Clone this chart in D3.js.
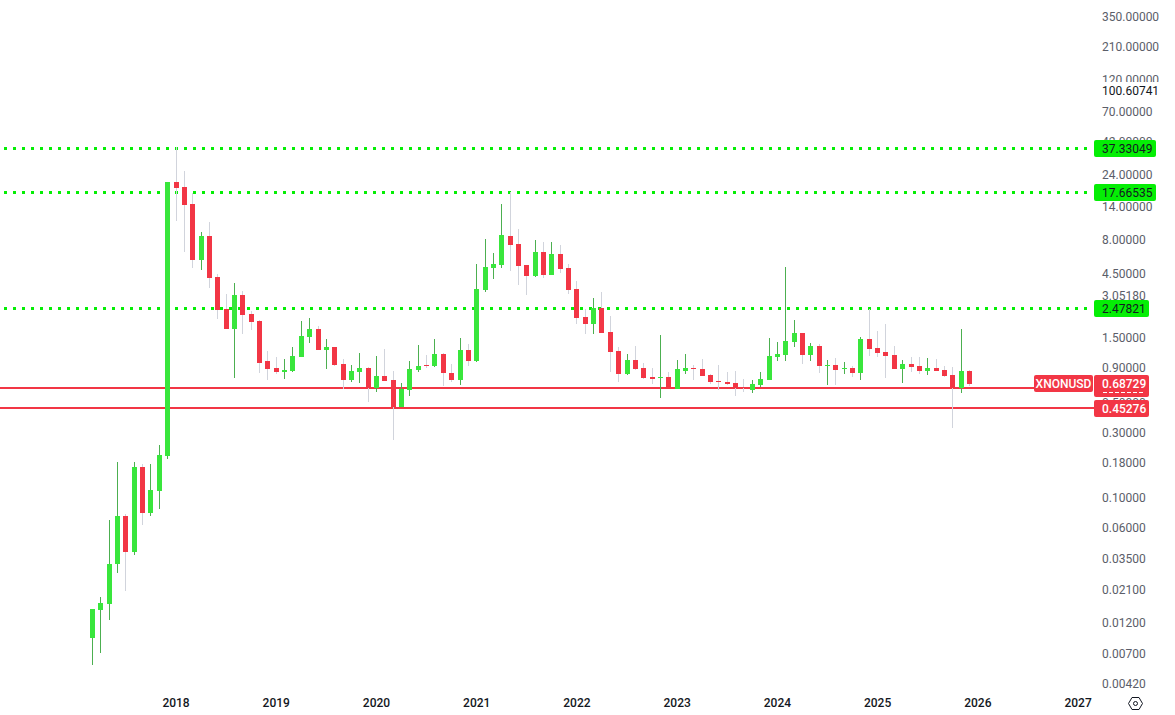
<!DOCTYPE html>
<html>
<head>
<meta charset="utf-8">
<title>XNONUSD</title>
<script src="https://cdn.jsdelivr.net/npm/d3@7"></script>
<style>
  html, body { margin: 0; padding: 0; background: #fff; overflow: hidden; }
  text { font-family: Roboto, "Liberation Sans", sans-serif; font-size: 12px; }
</style>
</head>
<body>
<div id="chart"></div>
<script>
// monthly candles, Mar 2017 .. Dec 2025
const firstMonth = new Date(2017, 2, 1);

const opens = [
  0.00904, 0.01454, 0.0161, 0.03176, 0.07178, 0.03896, 0.165, 0.0755, 0.1097, 0.1987,
  20.88, 19.17, 14.36, 5.548, 8.34, 4.157, 2.414, 1.719, 3.063, 2.216,
  1.969, 0.9977, 0.8861, 0.8283, 0.842, 1.068, 1.501, 1.719, 1.203, 1.266,
  0.948, 0.7228, 0.8283, 0.8861, 0.631, 0.7735, 0.7228, 0.457, 0.6099, 0.8566,
  0.9328, 0.9165, 1.124, 0.8138, 0.7228, 1.203, 0.9977, 3.333, 4.84, 5.099,
  8.34, 7.278, 5.099, 4.227, 6.36, 4.302, 6.141, 4.84, 3.389, 2.107,
  1.871, 2.456, 1.634, 1.183, 0.8, 1.015, 0.8861, 0.7607, 0.7478, 0.7607,
  0.6202, 0.842, 0.8861, 0.8709, 0.7872, 0.7105, 0.699, 0.6867, 0.6419, 0.6099,
  0.6642, 0.7228, 1.068, 1.106, 1.379, 1.606, 1.106, 1.288, 0.9165, 0.9328,
  0.8709, 0.8861, 0.8138, 1.45, 1.245, 1.163, 1.106, 0.8709, 0.948, 0.9165,
  0.842, 0.8861, 0.8566, 0.7872, 0.631, 0.842
];
const highs = [
  0.0148, 0.01814, 0.06706, 0.1797, 0.0742, 0.1797, 0.1735, 0.1735, 0.2398, 20.88,
  37.8, 25.15, 17.3, 8.93, 10.58, 4.372, 3.113, 3.753, 3.276, 2.333,
  2.003, 1.183, 1.068, 1.032, 1.266, 1.969, 2.072, 1.809, 1.45, 1.266,
  1.032, 0.9328, 1.143, 0.9013, 1.086, 1.224, 0.842, 0.6867, 0.9977, 1.31,
  1.106, 1.45, 1.143, 0.948, 1.475, 1.332, 5.182, 7.923, 6.246, 14.36,
  17.61, 9.387, 5.099, 7.792, 7.535, 7.535, 7.161, 5.182, 3.883, 2.414,
  2.91, 3.223, 2.143, 1.266, 1.124, 1.288, 0.9643, 0.8861, 1.553, 0.8283,
  1.015, 1.124, 0.9328, 1.032, 0.8, 0.9328, 0.8283, 0.842, 0.735, 0.7228,
  0.8283, 1.475, 1.379, 4.927, 2.003, 1.606, 1.355, 1.332, 1.015, 1.05,
  0.9815, 0.9165, 1.501, 2.414, 1.661, 1.871, 1.288, 1.015, 1.068, 1.068,
  1.05, 1.032, 0.9165, 0.9013, 1.719, 0.8566
];
const lows = [
  0.00572, 0.0070, 0.01227, 0.02726, 0.0201, 0.03703, 0.06163, 0.07178, 0.0808, 0.1889,
  10.75, 6.36, 4.84, 4.681, 3.449, 2.036, 1.719, 0.7478, 1.579, 1.69,
  0.8138, 0.7228, 0.8, 0.735, 0.8283, 1.068, 1.355, 1.203, 0.8709, 0.9165,
  0.6202, 0.699, 0.6867, 0.4976, 0.5898, 0.7105, 0.2609, 0.457, 0.5507, 0.8283,
  0.8861, 0.9013, 0.6527, 0.699, 0.6642, 0.9165, 0.9815, 3.223, 4.016, 4.84,
  4.601, 3.63, 3.063, 4.157, 4.087, 4.302, 4.447, 3.113, 1.871, 1.579,
  1.579, 1.606, 0.8283, 0.699, 0.7872, 0.8566, 0.735, 0.6751, 0.5325, 0.6202,
  0.6202, 0.8, 0.7228, 0.7735, 0.6751, 0.6099, 0.6642, 0.5507, 0.5898, 0.5794,
  0.6419, 0.7228, 0.9977, 0.9977, 1.266, 0.948, 0.9977, 0.8138, 0.6642, 0.6642,
  0.8, 0.7607, 0.7228, 1.086, 1.068, 0.7478, 0.8709, 0.6867, 0.8283, 0.8,
  0.7872, 0.842, 0.7607, 0.3199, 0.5794, 0.6527
];
const closes = [
  0.0148, 0.01638, 0.03176, 0.07178, 0.03896, 0.165, 0.0755, 0.1116, 0.2023, 20.88,
  18.85, 14.12, 5.548, 8.34, 4.087, 2.373, 1.719, 3.063, 2.181, 1.937,
  0.9643, 0.8709, 0.8283, 0.8566, 1.086, 1.526, 1.719, 1.203, 1.266, 0.9328,
  0.7228, 0.842, 0.8861, 0.631, 0.7735, 0.7105, 0.457, 0.6202, 0.8709, 0.9165,
  0.9165, 1.124, 0.8138, 0.7228, 1.203, 0.9977, 3.389, 4.927, 5.182, 8.486,
  7.161, 5.01, 4.227, 6.36, 4.302, 6.141, 4.76, 3.333, 2.072, 1.871,
  2.456, 1.606, 1.163, 0.8, 1.015, 0.8709, 0.7478, 0.735, 0.7607, 0.6202,
  0.8709, 0.8861, 0.8709, 0.7735, 0.699, 0.699, 0.6751, 0.631, 0.631, 0.6751,
  0.735, 1.086, 1.124, 1.402, 1.606, 1.106, 1.288, 0.9165, 0.9328, 0.8566,
  0.8861, 0.8138, 1.45, 1.224, 1.143, 1.086, 0.8709, 0.948, 0.9013, 0.842,
  0.8861, 0.842, 0.7735, 0.631, 0.842, 0.6751
];

const yearLabels = ["2018", "2019", "2020", "2021", "2022", "2023", "2024", "2025", "2026", "2027"];
const priceTicks = [350, 210, 120, 70, 42, 24, 14, 8, 4.5, 3.0518, 1.5, 0.9, 0.5, 0.3, 0.18, 0.1, 0.06, 0.035, 0.021, 0.012, 0.007, 0.0042];

const greenLevels = [37.33049, 17.66535, 2.47821];
const redLevels = [0.634, 0.45276];
const redLabels = [0.68729, 0.45276];
const topLabel = 100.60741;
const symbol = "XNONUSD";

const width = 1175;
const height = 715;
const axisX = 1102;
const labelX = 1094;
const upColor = "#39e63c";
const upWick = "#4caf50";
const downColor = "#f23645";
const downWick = "#d1d4dc";
const levelGreen = "#05ee05";
const textColor = "#5b5e69";
const darkText = "#131722";

const candles = d3.range(opens.length).map(i => ({
  i, open: opens[i], high: highs[i], low: lows[i], close: closes[i]
}));

const x = d3.scaleLinear().domain([0, candles.length - 1]).range([92.5, 969.5]);
const y = d3.scaleLog().domain([350, 0.0042]).range([16, 683]);

const monthIndex = year => (year - firstMonth.getFullYear()) * 12 - firstMonth.getMonth();
const labelWidth = v => 55 + 7 * (v.toFixed(5).length - 7);

const svg = d3.select("#chart").append("svg")
  .attr("width", width)
  .attr("height", height)
  .style("display", "block");

// horizontal levels, under the candles
svg.append("g").selectAll("line")
  .data(greenLevels)
  .join("line")
  .attr("x1", 4)
  .attr("x2", 1090)
  .attr("y1", d => Math.ceil(y(d)) + 0.5)
  .attr("y2", d => Math.ceil(y(d)) + 0.5)
  .attr("stroke", levelGreen)
  .attr("stroke-width", 3)
  .attr("stroke-dasharray", "3 6");

svg.append("g").selectAll("line")
  .data(redLevels)
  .join("line")
  .attr("x1", 0)
  .attr("x2", (d, i) => i === 0 ? 1034 : 1094)
  .attr("y1", d => Math.ceil(y(d)))
  .attr("y2", d => Math.ceil(y(d)))
  .attr("stroke", downColor)
  .attr("stroke-width", 2)
  .attr("shape-rendering", "crispEdges");

// candles
const candle = svg.append("g").attr("shape-rendering", "crispEdges")
  .selectAll("g")
  .data(candles)
  .join("g");

candle.append("rect")
  .attr("x", d => Math.floor(x(d.i)))
  .attr("width", 1)
  .attr("y", d => Math.round(y(d.high)))
  .attr("height", d => Math.max(1, Math.round(y(d.low)) - Math.round(y(d.high))))
  .attr("fill", d => d.close >= d.open ? upWick : downWick);

candle.append("rect")
  .attr("x", d => Math.floor(x(d.i)) - 2)
  .attr("width", 5)
  .attr("y", d => Math.round(y(Math.max(d.open, d.close))))
  .attr("height", d => Math.max(1, Math.round(y(Math.min(d.open, d.close))) - Math.round(y(Math.max(d.open, d.close)))))
  .attr("fill", d => d.close >= d.open ? upColor : downColor);

// axes
const xAxis = d3.axisBottom(x)
  .tickValues(yearLabels.map(d => monthIndex(+d)))
  .tickFormat((d, i) => yearLabels[i])
  .tickSize(0)
  .tickPadding(0);

svg.append("g")
  .attr("transform", "translate(-0.5,698)")
  .call(xAxis)
  .call(g => g.select(".domain").remove())
  .selectAll("text")
  .attr("fill", darkText)
  .style("font-family", "Roboto, sans-serif")
  .style("font-size", "12px")
  .style("font-weight", 500);

const yAxis = d3.axisRight(y)
  .tickValues(priceTicks)
  .tickFormat(d => d.toFixed(5))
  .tickSize(0)
  .tickPadding(0);

svg.append("g")
  .attr("transform", `translate(${axisX},0)`)
  .call(yAxis)
  .call(g => g.select(".domain").remove())
  .selectAll("text")
  .attr("dy", "0.4em")
  .attr("fill", textColor)
  .style("font-family", "Roboto, sans-serif")
  .style("font-size", "12px");

// price labels on the scale
function priceLabel(value, fill, color, top, h) {
  const g = svg.append("g");
  g.append("rect")
    .attr("x", labelX)
    .attr("y", top)
    .attr("width", labelWidth(value))
    .attr("height", h)
    .attr("rx", 2)
    .attr("fill", fill);
  g.append("text")
    .attr("x", axisX)
    .attr("y", top + 8.5)
    .attr("dy", "0.36em")
    .attr("fill", color)
    .style("font-weight", color === "#fff" ? 500 : 400)
    .text(value.toFixed(5));
}

priceLabel(topLabel, "#fff", darkText, Math.ceil(y(topLabel)) - 8, 17);
greenLevels.forEach(v => priceLabel(v, levelGreen, darkText, Math.ceil(y(v)) - 8, 17));
priceLabel(redLabels[1], downColor, "#fff", Math.ceil(y(redLabels[1])) - 8, 17);

// current price label is taller, it has a second row
priceLabel(redLabels[0], downColor, "#fff", Math.ceil(y(redLabels[0])) - 8, 22);
svg.append("line")
  .attr("x1", axisX + 1)
  .attr("x2", axisX + 42)
  .attr("y1", 392.5)
  .attr("y2", 392.5)
  .attr("stroke", "#fff")
  .attr("stroke-dasharray", "4 2");

svg.append("rect")
  .attr("x", 1034)
  .attr("y", Math.ceil(y(redLabels[0])) - 8)
  .attr("width", 59)
  .attr("height", 17)
  .attr("rx", 2)
  .attr("fill", downColor);
svg.append("text")
  .attr("x", 1063.5)
  .attr("y", Math.ceil(y(redLabels[0])) + 0.5)
  .attr("dy", "0.36em")
  .attr("text-anchor", "middle")
  .attr("fill", "#fff")
  .style("font-weight", 500)
  .text(symbol);

// settings icon, bottom right
const icon = svg.append("g").attr("fill", "none").attr("stroke", darkText);
icon.append("path").attr("d", "M1128.5 703.5L1132 697.5H1139L1142.5 703.5L1139 709.5H1132Z");
icon.append("circle").attr("cx", 1135.5).attr("cy", 703.5).attr("r", 2);
</script>
</body>
</html>
